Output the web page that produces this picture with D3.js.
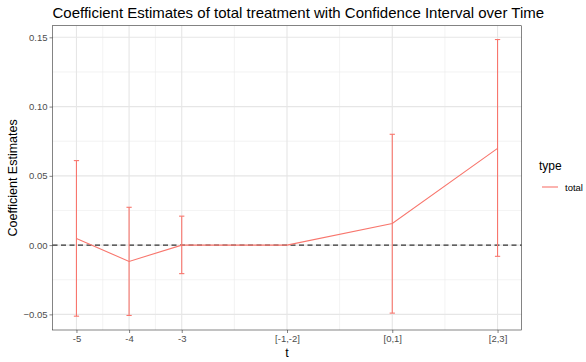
<!DOCTYPE html>
<html><head><meta charset="utf-8">
<script src="https://cdn.jsdelivr.net/npm/d3@7"></script>
<style>body{margin:0;background:#fff}svg{display:block;font-family:"Liberation Sans",Arial,sans-serif}</style>
</head><body><svg id="c" width="586" height="362"></svg>
<script>
const tPos = [-5, -4, -3, -1, 1, 3];
const tLabels = ["-5", "-4", "-3", "[-1,-2]", "[0,1]", "[2,3]"];
const estimate = [0.0048, -0.0118, 0, 0, 0.0156, 0.0698];
const ciLow = [-0.0513, -0.0508, -0.0206, 0, -0.0491, -0.0081];
const ciHigh = [0.061, 0.0273, 0.0209, 0, 0.080, 0.1484];
const yTicks = [-0.05, 0, 0.05, 0.10, 0.15];
const yMinor = [-0.025, 0.025, 0.075, 0.125];
const xMinor = [-4.5, -3.5, -2, 0, 2];
const color = "#F8766D";

const svg = d3.select("#c");
const L = 52.5, R = 521.5, T = 25.7, B = 330;
const capW = 0.05;
const xmin = -5 - capW, xmax = 3 + capW, xpad = (xmax - xmin) * 0.05;
const x = d3.scaleLinear().domain([xmin - xpad, xmax + xpad]).range([L, R]);
const ylo = d3.min(ciLow), yhi = d3.max(ciHigh), ypad = (yhi - ylo) * 0.05;
const y = d3.scaleLinear().domain([ylo - ypad, yhi + ypad]).range([B, T]);

const g = svg.append("g");
g.selectAll(".ym").data(yMinor).join("line").attr("x1", L).attr("x2", R)
  .attr("y1", d => y(d)).attr("y2", d => y(d)).attr("stroke", "#ebebeb").attr("stroke-width", 0.6);
g.selectAll(".xm").data(xMinor).join("line").attr("y1", T).attr("y2", B)
  .attr("x1", d => x(d)).attr("x2", d => x(d)).attr("stroke", "#ebebeb").attr("stroke-width", 0.6);
g.selectAll(".yM").data(yTicks).join("line").attr("x1", L).attr("x2", R)
  .attr("y1", d => y(d)).attr("y2", d => y(d)).attr("stroke", "#e6e6e6").attr("stroke-width", 1.1);
g.selectAll(".xM").data(tPos).join("line").attr("y1", T).attr("y2", B)
  .attr("x1", d => x(d)).attr("x2", d => x(d)).attr("stroke", "#e6e6e6").attr("stroke-width", 1.1);

// hline at 0
g.append("line").attr("x1", L).attr("x2", R).attr("y1", y(0)).attr("y2", y(0))
  .attr("stroke", "#333").attr("stroke-width", 1.4).attr("stroke-dasharray", "5,3.5");

const data = tPos.map((t, i) => ({t, e: estimate[i], lo: ciLow[i], hi: ciHigh[i]}));
const eb = g.append("g").attr("stroke", color).attr("stroke-width", 1.1).attr("fill", "none");
data.filter(d => d.hi !== d.lo).forEach(d => {
  eb.append("line").attr("x1", x(d.t)).attr("x2", x(d.t)).attr("y1", y(d.lo)).attr("y2", y(d.hi));
  eb.append("line").attr("x1", x(d.t - capW)).attr("x2", x(d.t + capW)).attr("y1", y(d.lo)).attr("y2", y(d.lo));
  eb.append("line").attr("x1", x(d.t - capW)).attr("x2", x(d.t + capW)).attr("y1", y(d.hi)).attr("y2", y(d.hi));
});
g.append("path").datum(data).attr("fill", "none").attr("stroke", color).attr("stroke-width", 1.1)
  .attr("d", d3.line().x(d => x(d.t)).y(d => y(d.e)));

// panel border
g.append("rect").attr("x", L).attr("y", T).attr("width", R - L).attr("height", B - T)
  .attr("fill", "none").attr("stroke", "#333").attr("stroke-width", 0.6);

// axes
const xAxis = d3.axisBottom(x).tickValues(tPos).tickFormat((d, i) => tLabels[i]).tickSize(3).tickPadding(2);
const ax = svg.append("g").attr("transform", `translate(0,${B})`).call(xAxis);
const yAxis = d3.axisLeft(y).tickValues(yTicks).tickFormat(d3.format(".2f")).tickSize(3).tickPadding(2);
const ay = svg.append("g").attr("transform", `translate(${L},0)`).call(yAxis);
[ax, ay].forEach(a => {
  a.select(".domain").remove();
  a.selectAll(".tick line").attr("stroke", "#333").attr("stroke-width", 0.6);
  a.selectAll(".tick text").attr("fill", "#4d4d4d").style("font-size", "9.5px").style("font-family", "Liberation Sans, Arial, sans-serif");
});

svg.append("text").attr("x", L).attr("y", 18).text("Coefficient Estimates of total treatment with Confidence Interval over Time")
  .style("font-size", "15px").attr("fill", "#000");
svg.append("text").attr("x", (L + R) / 2).attr("y", 357).attr("text-anchor", "middle").text("t")
  .style("font-size", "12.5px");
svg.append("text").attr("transform", `translate(17,${(T + B) / 2}) rotate(-90)`).attr("text-anchor", "middle")
  .text("Coefficient Estimates").style("font-size", "12.5px");

// legend
const lg = svg.append("g");
lg.append("text").attr("x", 539).attr("y", 170).text("type").style("font-size", "12px");
lg.append("line").attr("x1", 542).attr("x2", 558).attr("y1", 187).attr("y2", 187).attr("stroke", color).attr("stroke-width", 1.1);
lg.append("text").attr("x", 565).attr("y", 190.5).text("total").style("font-size", "9.5px");
</script></body></html>
